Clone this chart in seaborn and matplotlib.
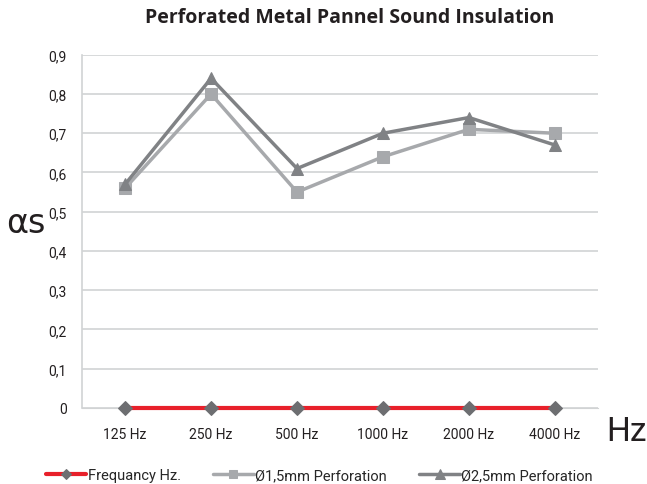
import matplotlib
matplotlib.use("Agg")
import matplotlib.pyplot as plt
import seaborn as sns
import pandas as pd

# data
freqs = ["125 Hz", "250 Hz", "500 Hz", "1000 Hz", "2000 Hz", "4000 Hz"]
frequency_hz = [0, 0, 0, 0, 0, 0]
perf_15 = [0.56, 0.80, 0.55, 0.64, 0.71, 0.70]
perf_25 = [0.57, 0.84, 0.61, 0.70, 0.74, 0.67]
y_ticks = [0, 0.1, 0.2, 0.3, 0.4, 0.5, 0.6, 0.7, 0.8, 0.9]

sns.set_style("white")
plt.rcParams["font.family"] = ["Roboto", "DejaVu Sans"]

fig = plt.figure(figsize=(6.47, 4.85), dpi=100)
ax = fig.add_axes([0.127, 0.157, 0.797, 0.728])

x = list(range(len(freqs)))
df = pd.DataFrame({"x": x, "freq": frequency_hz, "p15": perf_15, "p25": perf_25})

sns.lineplot(data=df, x="x", y="freq", ax=ax, color="#e8202a", linewidth=3,
             marker="D", markersize=7, markerfacecolor="#6d6e71",
             markeredgecolor="#6d6e71", label="Frequancy Hz.", zorder=5,
             clip_on=False)
sns.lineplot(data=df, x="x", y="p15", ax=ax, color="#a7a9ac", linewidth=2.5,
             marker="s", markersize=8, markeredgecolor="#a7a9ac",
             label="\u00d81,5mm Perforation", zorder=3)
sns.lineplot(data=df, x="x", y="p25", ax=ax, color="#808285", linewidth=2.5,
             marker="^", markersize=9, markeredgecolor="#808285",
             label="\u00d82,5mm Perforation", zorder=4)

ax.set_xlim(-0.5, 5.5)
ax.set_ylim(0, 0.9)
ax.set_yticks(y_ticks)
ax.set_yticklabels([("%.1f" % v).replace(".", ",") if v else "0" for v in y_ticks])
ax.set_xticks(x)
ax.set_xticklabels(freqs)
ax.tick_params(axis="both", length=0, labelsize=10, colors="#231f20")
ax.tick_params(axis="x", pad=14)
ax.tick_params(axis="y", pad=11)
ax.grid(axis="y", color="#d1d3d4", linewidth=1.2)
ax.set_axisbelow(True)
for s in ["top", "right"]:
    ax.spines[s].set_visible(False)
ax.spines["left"].set_color("#d1d3d4")
ax.spines["bottom"].set_color("#d1d3d4")
ax.spines["left"].set_linewidth(1.2)
ax.set_xlabel("")
ax.set_ylabel("")

fig.text(0.54, 0.962, "Perforated Metal Pannel Sound Insulation", ha="center",
         va="center", fontsize=14, fontweight="bold", color="#231f20",
         family="Open Sans")
fig.text(0.01, 0.54, "\u03b1s", fontsize=24, color="#231f20", va="center",
         family="DejaVu Sans")
fig.text(0.937, 0.11, "Hz", fontsize=24, color="#231f20", va="center")

ax.legend(loc="center", bbox_to_anchor=(0.46, -0.19), ncol=3,
          frameon=False, fontsize=10.5, handlelength=2.8, columnspacing=2.2,
          handletextpad=0.1, markerscale=0.8)

fig.savefig("out.png", dpi=100)
